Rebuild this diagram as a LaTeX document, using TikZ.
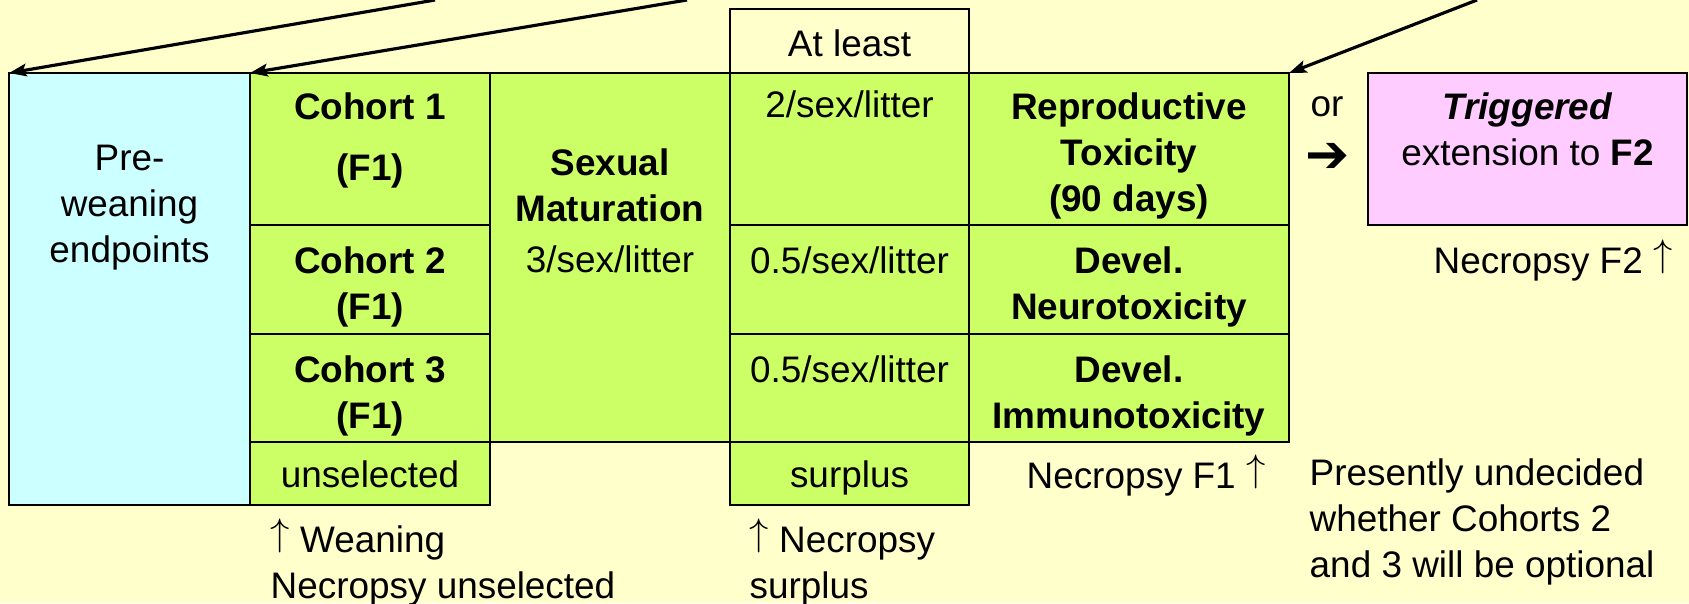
\documentclass[tikz,border=0pt]{standalone}
\usepackage{fontspec}
\setmainfont{Liberation Sans}
\newfontfamily\arrowfont{DejaVu Sans}
\usetikzlibrary{positioning,arrows.meta}

\definecolor{paper}{HTML}{FFFFCC}
\definecolor{cohortgreen}{HTML}{CCFF66}
\definecolor{preblue}{HTML}{CCFFFF}
\definecolor{trigpink}{HTML}{FFCCFF}

\newcommand{\uparr}{\raisebox{0.19em}{$\uparrow$}}

\tikzset{
  cell/.style={draw, line width=0.6pt, anchor=north west, inner sep=0pt, outer sep=0pt},
  gcell/.style={cell, fill=cohortgreen},
  celltext/.style={align=center, inner sep=0pt, font=\fontsize{10.5}{13.1}\selectfont},
  note/.style={align=left, inner sep=0pt, font=\fontsize{10.5}{13.1}\selectfont},
  pointer/.style={line width=0.9pt, -{Stealth[length=5pt,width=3.6pt,inset=1pt]}}
}

\begin{document}
\begin{tikzpicture}
    % Fond
    \fill[paper] (0,0) rectangle (16.89,-6.03);
    \useasboundingbox (0,0) rectangle (16.89,-6.03);

    % Pre-weaning
    \node[cell, fill=preblue, minimum width=2.41cm, minimum height=4.32cm] (pre) at (0.09,-0.73) {};
    \node[celltext, below=0.71 of pre.north] (pretxt) {Pre-\\weaning\\endpoints};

    % Cohortes F1
    \node[gcell, minimum width=2.40cm, minimum height=1.52cm] (c1) at (2.50,-0.73) {};
    \node[gcell, minimum width=2.40cm, minimum height=1.09cm] (c2) at (2.50,-2.25) {};
    \node[gcell, minimum width=2.40cm, minimum height=1.08cm] (c3) at (2.50,-3.34) {};
    \node[gcell, minimum width=2.40cm, minimum height=0.63cm] (unsel) at (2.50,-4.42) {};
    \node[celltext, below=0.19 of c1.north] (c1txt) {\bfseries Cohort 1\\[4.2pt]\bfseries (F1)};
    \node[celltext, below=0.21 of c2.north] (c2txt) {\bfseries Cohort 2\\\bfseries (F1)};
    \node[celltext, below=0.21 of c3.north] (c3txt) {\bfseries Cohort 3\\\bfseries (F1)};
    \node[celltext, below=0.18 of unsel.north] (unseltxt) {unselected};

    % Maturation sexuelle
    \node[gcell, minimum width=2.40cm, minimum height=3.69cm] (sexmat) at (4.90,-0.73) {};
    \node[celltext, below=0.75 of sexmat.north] (sexmattxt) {\bfseries Sexual\\\bfseries Maturation\\[1.5pt]3/sex/litter};

    % Effectifs
    \node[cell, minimum width=2.39cm, minimum height=0.64cm] (least) at (7.30,-0.09) {};
    \node[gcell, minimum width=2.39cm, minimum height=1.52cm] (d1) at (7.30,-0.73) {};
    \node[gcell, minimum width=2.39cm, minimum height=1.09cm] (d2) at (7.30,-2.25) {};
    \node[gcell, minimum width=2.39cm, minimum height=1.08cm] (d3) at (7.30,-3.34) {};
    \node[gcell, minimum width=2.39cm, minimum height=0.63cm] (surp) at (7.30,-4.42) {};
    \node[celltext, below=0.20 of least.north] (leasttxt) {At least};
    \node[celltext, below=0.17 of d1.north] (d1txt) {2/sex/litter};
    \node[celltext, below=0.21 of d2.north] (d2txt) {0.5/sex/litter};
    \node[celltext, below=0.21 of d3.north] (d3txt) {0.5/sex/litter};
    \node[celltext, below=0.18 of surp.north] (surptxt) {surplus};

    % Toxicite
    \node[gcell, minimum width=3.20cm, minimum height=1.52cm] (repro) at (9.69,-0.73) {};
    \node[gcell, minimum width=3.20cm, minimum height=1.09cm] (neuro) at (9.69,-2.25) {};
    \node[gcell, minimum width=3.20cm, minimum height=1.08cm] (immuno) at (9.69,-3.34) {};
    \node[celltext, below=0.19 of repro.north] (reprotxt) {\bfseries Reproductive\\\bfseries Toxicity\\\bfseries (90 days)};
    \node[celltext, below=0.21 of neuro.north] (neurotxt) {\bfseries Devel.\\\bfseries Neurotoxicity};
    \node[celltext, below=0.21 of immuno.north] (immunotxt) {\bfseries Devel.\\\bfseries Immunotoxicity};

    % Extension F2
    \node[cell, fill=trigpink, minimum width=3.19cm, minimum height=1.52cm] (f2) at (13.68,-0.73) {};
    \node[celltext, below=0.19 of f2.north] (f2txt) {\textbf{\textit{Triggered}}\\extension to \textbf{F2}};
    \node[celltext] (or) at (13.27,-1.07) {or};
    \node[inner sep=0pt, font=\fontsize{15}{15}\selectfont] (orarrow) at (13.28,-1.58) {\arrowfont\bfseries ➔};

    % Notes
    \node[note, anchor=east] (necf2) at (16.73,-2.60) {Necropsy F2 \uparr};
    \node[note, anchor=east] (necf1) at (12.66,-4.75) {Necropsy F1 \uparr};
    \node[note, anchor=west] (undecided) at (13.09,-5.22) {Presently undecided\\whether Cohorts 2\\and 3 will be optional};
    \node[note, anchor=west] (weaning) at (2.70,-5.62) {\uparr\ Weaning\\Necropsy unselected};
    \node[note, anchor=west] (necsurp) at (7.49,-5.62) {\uparr\ Necropsy\\surplus};

    % Fleches du haut
    \coordinate (s1) at (4.35,0);
    \coordinate (s2) at (6.87,0);
    \coordinate (s3) at (14.77,0);
    \draw[pointer] (s1) -- (pre.north west);
    \draw[pointer] (s2) -- (c1.north west);
    \draw[pointer] (s3) -- (repro.north east);
\end{tikzpicture}
\end{document}
